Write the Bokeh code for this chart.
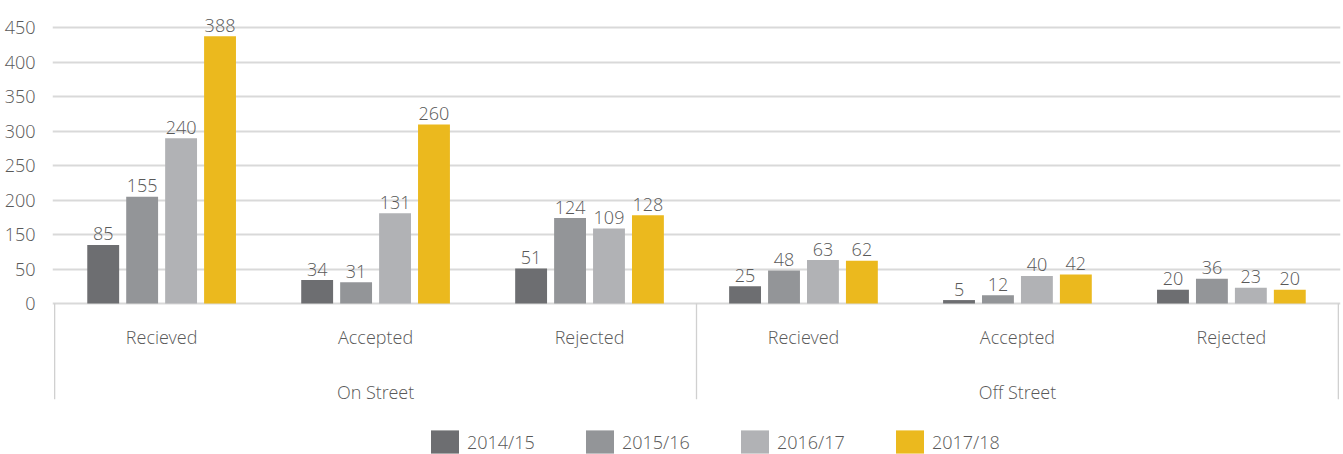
from bokeh.plotting import figure
from bokeh.models import ColumnDataSource, FactorRange, FixedTicker, Legend, LegendItem, Range1d
from bokeh.transform import dodge
from bokeh.core.properties import value
from bokeh.embed import file_html
from bokeh.resources import INLINE

# ---- data ----
groups = ["On Street", "Off Street"]
subgroups = ["Recieved", "Accepted", "Rejected"]
years = ["2014/15", "2015/16", "2016/17", "2017/18"]
v_2014_15 = [85, 34, 51, 25, 5, 20]
v_2015_16 = [155, 31, 124, 48, 12, 36]
v_2016_17 = [240, 131, 109, 63, 40, 23]
v_2017_18 = [388, 260, 128, 62, 42, 20]
y_ticks = [0, 50, 100, 150, 200, 250, 300, 350, 400]
y_tick_labels = ["0", "50", "150", "200", "250", "300", "350", "400", "450"]

# ---- style ----
colors = ["#6d6e71", "#939598", "#b1b2b5", "#ebb91e"]
FONT = "Open Sans Light"
TXT = "#595959"
GRID = "#d9d9d9"
FS = "18px"

factors = [(g, s) for g in groups for s in subgroups]
series = [v_2014_15, v_2015_16, v_2016_17, v_2017_18]

data = dict(x=factors)
for i, vals in enumerate(series):
    data[f"v{i}"] = vals
    data[f"t{i}"] = [str(v) for v in vals]
src = ColumnDataSource(data)

x_range = FactorRange(factors=factors, factor_padding=0, group_padding=0,
                      range_padding=0.01, range_padding_units="absolute")
p = figure(width=1343, height=454, x_range=x_range, y_range=Range1d(-219.2, 439.9),
           output_backend="svg", toolbar_location=None, title=None,
           x_axis_location=None, min_border_left=52, min_border_right=3,
           min_border_top=0, min_border_bottom=0)
p.outline_line_color = None
p.xgrid.grid_line_color = None
p.ygrid.grid_line_color = GRID
p.ygrid.grid_line_width = 2
p.yaxis.ticker = FixedTicker(ticks=y_ticks)
p.yaxis.major_label_overrides = {t: l for t, l in zip(y_ticks, y_tick_labels)}
p.yaxis.axis_line_color = None
p.yaxis.major_tick_line_color = None
p.yaxis.minor_tick_line_color = None
p.yaxis.major_label_standoff = 11
p.yaxis.major_label_text_font = FONT
p.yaxis.major_label_text_font_size = FS
p.yaxis.major_label_text_color = TXT

bar_w = 0.149
pitch = 0.182
offsets = [(i - 1.5) * pitch for i in range(len(years))]
renderers = []
for i, yr in enumerate(years):
    r = p.vbar(x=dodge("x", offsets[i], range=p.x_range), top=f"v{i}", bottom=0,
               width=bar_w, source=src, fill_color=colors[i], line_color=None)
    renderers.append(r)
    p.text(x=dodge("x", offsets[i], range=p.x_range), y=f"v{i}", text=f"t{i}",
           source=src, y_offset=-11, text_align="center", text_baseline="alphabetic",
           text_font=value(FONT), text_font_size=FS, text_color=TXT)

# category labels
p.text(x=factors, y=[-48] * len(factors), text=[s for _, s in factors],
       text_align="center", text_baseline="middle", text_font=value(FONT),
       text_font_size=FS, text_color=TXT)
p.text(x=groups, y=[-129] * len(groups), text=groups,
       text_align="center", text_baseline="middle", text_font=value(FONT),
       text_font_size=FS, text_color=TXT)

# group separators
sep_x = [i * len(subgroups) for i in range(len(groups) + 1)]
p.segment(x0=sep_x, x1=sep_x, y0=[0] * len(sep_x), y1=[-139] * len(sep_x),
          line_color="#d0d0d0", line_width=1.3)

legend = Legend(items=[LegendItem(label=yr, renderers=[r]) for yr, r in zip(years, renderers)],
                orientation="horizontal", location=(375, -2),
                glyph_width=35, glyph_height=29, label_standoff=5, label_width=70,
                spacing=45, padding=0, margin=0, border_line_color=None,
                background_fill_alpha=0, label_text_font=FONT,
                label_text_font_size=FS, label_text_color=TXT)
p.add_layout(legend)

open("out.html", "w").write(file_html(p, INLINE))
